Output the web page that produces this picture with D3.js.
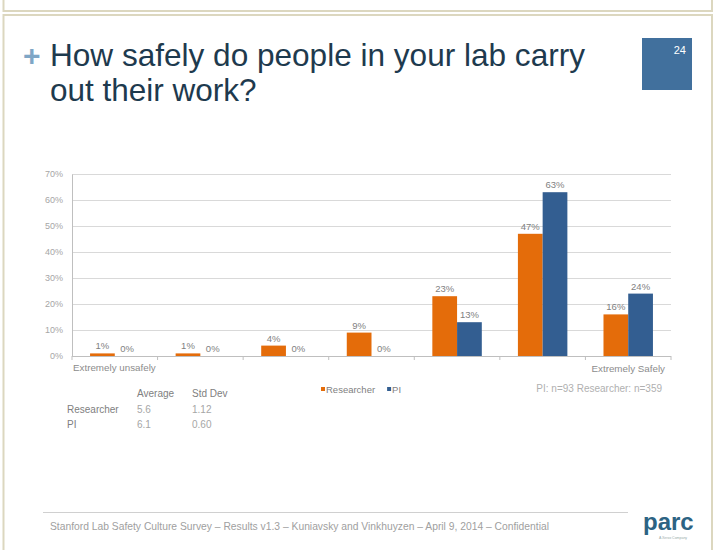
<!DOCTYPE html>
<html><head><meta charset="utf-8">
<script src="https://cdn.jsdelivr.net/npm/d3@7"></script>
<style>
html,body{margin:0;padding:0;background:#fff;}
svg{display:block;font-family:"Liberation Sans",Arial,sans-serif;}
</style></head>
<body>
<svg id="c" width="715" height="550"></svg>
<script>
const categories = ["1","2","3","4","5","6","7"];
const seriesNames = ["Researcher","PI"];
const researcher = [1,1,4,9,23,47,16];
const pi = [0,0,0,0,13,63,24];
const yTicks = [0,10,20,30,40,50,60,70];
const statsHeader = ["Average","Std Dev"];
const statsRows = ["Researcher","PI"];
const statsAvg = ["5.6","6.1"];
const statsSd = ["1.12","0.60"];

const colors = {Researcher:"#e46c0a", PI:"#335e91"};
const svg = d3.select("#c");

// slide frame
const frame = "#dcd7bf";
svg.append("rect").attr("x",3.5).attr("y",-5).attr("width",708.5).attr("height",16).attr("fill","none").attr("stroke",frame).attr("stroke-width",2);
svg.append("rect").attr("x",3.5).attr("y",15).attr("width",708.5).attr("height",545).attr("fill","none").attr("stroke",frame).attr("stroke-width",2);

// title
svg.append("text").attr("x",23).attr("y",66).attr("font-size",30).attr("font-weight","bold").attr("fill","#7fa6c6").text("+");
const title = svg.append("text").attr("font-size",31.5).attr("fill","#1e3a4e");
title.append("tspan").attr("x",50).attr("y",66).attr("textLength",535).attr("lengthAdjust","spacingAndGlyphs").text("How safely do people in your lab carry");
title.append("tspan").attr("x",50).attr("y",101).text("out their work?");

// page number box
svg.append("rect").attr("x",642).attr("y",38).attr("width",50).attr("height",52).attr("fill","#41709d");
svg.append("text").attr("x",686).attr("y",54).attr("text-anchor","end").attr("font-size",11).attr("fill","#fff").text("24");

// chart
const x0 = 72, x1 = 671, yTop = 174, yBot = 356;
const x = d3.scaleBand().domain(categories).range([x0,x1]).paddingInner(0).paddingOuter(0);
const xs = d3.scaleBand().domain(seriesNames).range([0,x.bandwidth()]).paddingInner(0).paddingOuter(0.73);
const y = d3.scaleLinear().domain([0,70]).range([yBot,yTop]);

const g = svg.append("g");
// gridlines
const grid = g.append("g").attr("transform",`translate(${x0},0)`)
  .call(d3.axisLeft(y).tickValues(yTicks).tickSize(-(x1-x0)).tickFormat(""));
grid.select(".domain").remove();
grid.selectAll("line").attr("stroke","#d9d9d9").attr("stroke-width",1);

// y axis labels
const ya = g.append("g").attr("transform",`translate(${x0},0)`)
  .call(d3.axisLeft(y).tickValues(yTicks).tickSize(0).tickPadding(9).tickFormat(d=>d+"%"));
ya.select(".domain").attr("stroke","#bfbfbf");
ya.selectAll("text").attr("font-size",9).attr("fill","#a6a6a6").attr("font-family","Liberation Sans, Arial, sans-serif");

// x axis line + ticks at band boundaries
g.append("line").attr("x1",x0).attr("x2",x1).attr("y1",y(0)+0.5).attr("y2",y(0)+0.5).attr("stroke","#bfbfbf");
const bounds = categories.map(c=>x(c)).concat([x1]);
g.selectAll(".xt").data(bounds).enter().append("line")
  .attr("x1",d=>d).attr("x2",d=>d).attr("y1",y(0)).attr("y2",y(0)+4).attr("stroke","#bfbfbf");

// bars
const data = [];
categories.forEach((c,i)=>{
  data.push({c, s:"Researcher", v:researcher[i]});
  data.push({c, s:"PI", v:pi[i]});
});
g.selectAll(".bar").data(data).enter().append("rect")
  .attr("x",d=>x(d.c)+xs(d.s))
  .attr("width",xs.bandwidth())
  .attr("y",d=>y(d.v))
  .attr("height",d=>y(0)-y(d.v))
  .attr("fill",d=>colors[d.s]);
g.selectAll(".lbl").data(data).enter().append("text")
  .attr("x",d=>x(d.c)+xs(d.s)+xs.bandwidth()/2)
  .attr("y",d=>y(d.v)-4)
  .attr("text-anchor","middle")
  .attr("font-size",9.5).attr("fill","#7f7f7f")
  .text(d=>d.v+"%");

// end labels
svg.append("text").attr("x",73).attr("y",371).attr("font-size",9.8).attr("fill","#8c8c8c").text("Extremely unsafely");
svg.append("text").attr("x",665).attr("y",372).attr("text-anchor","end").attr("font-size",9.8).attr("fill","#8c8c8c").text("Extremely Safely");

// legend
const lg = svg.append("g").attr("transform","translate(321,389)");
let lx = 0;
seriesNames.forEach((s,i)=>{
  lg.append("rect").attr("x",lx).attr("y",-2).attr("width",4).attr("height",4).attr("fill",colors[s]);
  const t = lg.append("text").attr("x",lx+5).attr("y",3.5).attr("font-size",9.5).attr("fill","#7f7f7f").text(s);
  lx += 5 + t.node().getComputedTextLength() + 12;
});
svg.append("text").attr("x",662).attr("y",392).attr("text-anchor","end").attr("font-size",10).attr("fill","#b0b0b0").text("PI: n=93 Researcher: n=359");

// stats table
const tf = {size:10, fill:"#8c8c8c"};
statsHeader.forEach((h,i)=>{
  svg.append("text").attr("x",[137,192][i]).attr("y",397).attr("font-size",tf.size).attr("fill","#808080").text(h);
});
statsRows.forEach((r,i)=>{
  const yy = 413 + i*14.5;
  svg.append("text").attr("x",67).attr("y",yy).attr("font-size",tf.size).attr("fill","#808080").text(r);
  svg.append("text").attr("x",137).attr("y",yy).attr("font-size",tf.size).attr("fill","#a6a6a6").text(statsAvg[i]);
  svg.append("text").attr("x",192).attr("y",yy).attr("font-size",tf.size).attr("fill","#a6a6a6").text(statsSd[i]);
});

// footer
svg.append("line").attr("x1",43).attr("x2",628).attr("y1",512.5).attr("y2",512.5).attr("stroke","#d0d0d0");
svg.append("text").attr("x",50).attr("y",530).attr("font-size",10.3).attr("fill","#a0a0a0")
  .text("Stanford Lab Safety Culture Survey –  Results v1.3 – Kuniavsky and Vinkhuyzen – April 9, 2014 – Confidential");
svg.append("text").attr("x",643).attr("y",530).attr("font-size",24).attr("font-weight","bold").attr("fill","#2c6383").text("parc");
svg.append("text").attr("x",673).attr("y",539).attr("text-anchor","middle").attr("font-size",3.5).attr("fill","#9aa").text("A Xerox Company");
</script>
</body></html>
